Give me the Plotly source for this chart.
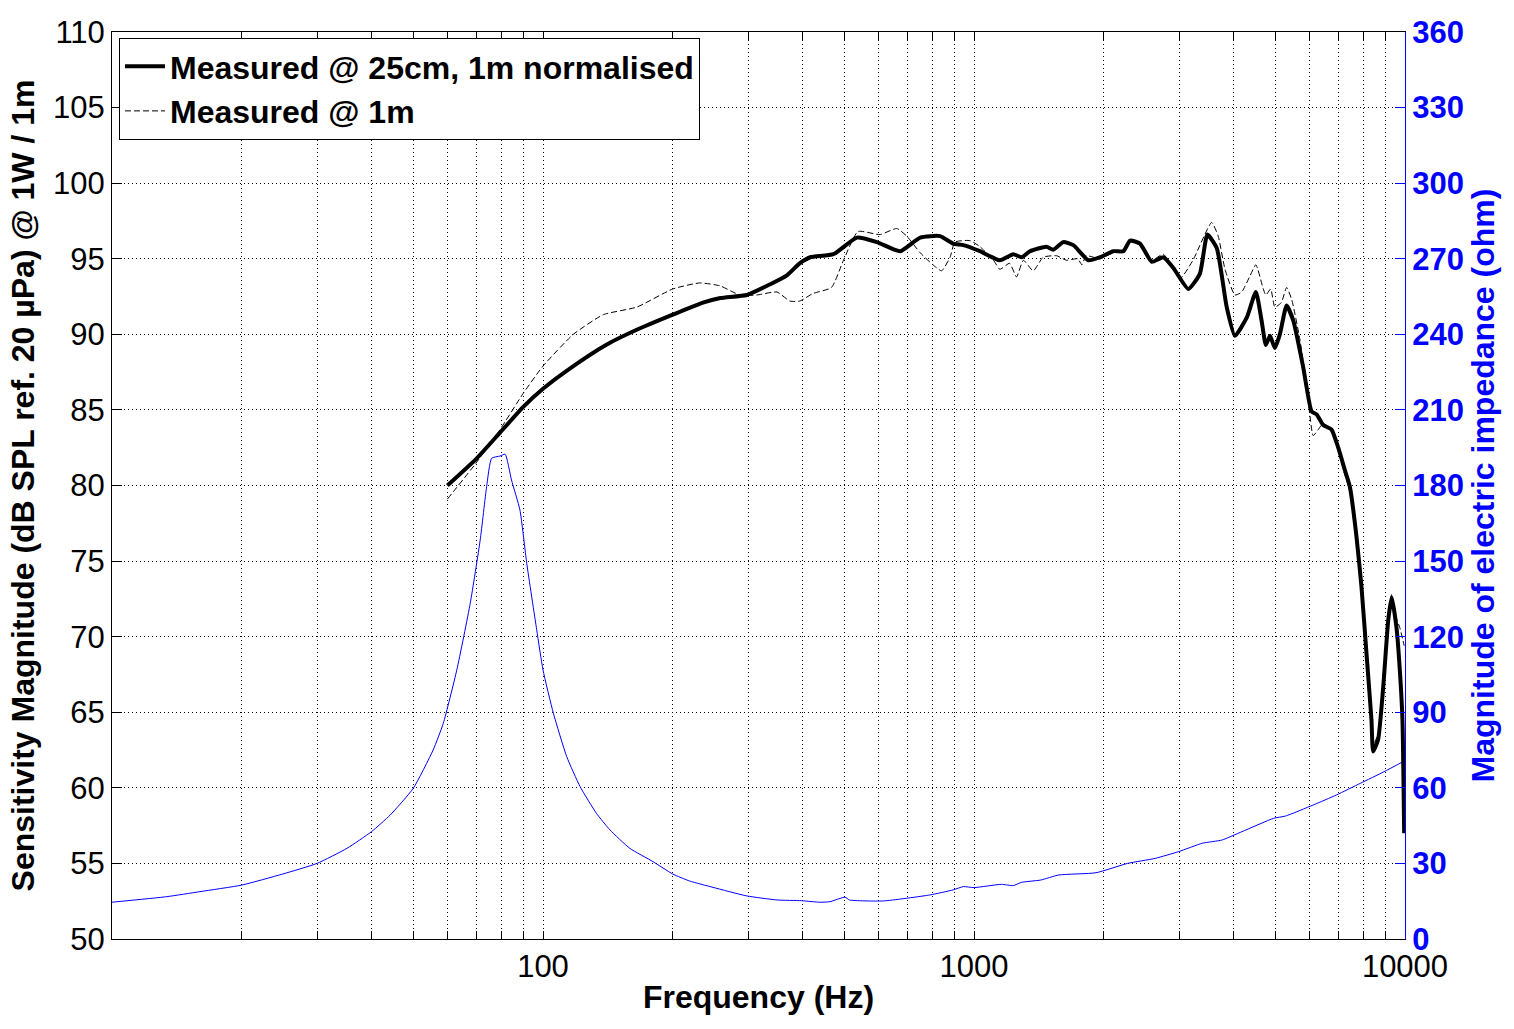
import plotly.graph_objects as go

# ---------------- data ----------------
# Measured @ 25cm, 1m normalised (Hz, dB)
f_near = [60, 70.2, 79.5, 90, 100, 117.6, 140, 165, 200, 235, 258, 297, 336, 368, 394, 417,
          472, 535, 595, 674, 750, 834, 895, 945, 1032, 1148, 1233, 1290, 1348, 1473, 1527,
          1611, 1700, 1842, 1961, 2105, 2221, 2303, 2428, 2585, 2750, 2899, 3143, 3342, 3480,
          3659, 3858, 4031, 4293, 4508, 4648, 4755, 4861, 4989, 5124, 5312, 5506, 5807, 6072,
          6237, 6459, 6754, 7000, 7255, 7450, 7718, 7925, 8140, 8360, 8435, 8663, 8903, 9144,
          9313, 9555, 9726, 9865, 9955]
spl_near = [80.0, 81.8, 83.5, 85.2, 86.4, 87.9, 89.3, 90.3, 91.3, 92.1, 92.4, 92.6, 93.3, 93.9,
            94.7, 95.1, 95.3, 96.4, 96.1, 95.5, 96.4, 96.5, 96.0, 95.9, 95.5, 94.9, 95.3, 95.1,
            95.5, 95.8, 95.6, 96.1, 95.9, 94.9, 95.1, 95.5, 95.5, 96.2, 96.0, 94.8, 95.1, 94.4,
            93.0, 94.0, 96.6, 95.7, 91.8, 89.9, 91.1, 92.8, 90.9, 89.3, 89.9, 89.1, 90.0, 91.9,
            90.9, 87.8, 84.9, 84.7, 84.0, 83.7, 82.5, 81.0, 79.9, 76.6, 73.3, 68.9, 64.5, 62.4,
            63.2, 66.7, 71.1, 72.6, 70.6, 67.8, 64.5, 57.0]

# Measured @ 1m (Hz, dB)
f_far = [60, 70, 79.5, 90, 100, 117.6, 138, 165, 200, 231, 258, 286, 313, 349, 374, 394, 423,
         467, 498, 538, 605, 662, 698, 750, 803, 841, 880, 903, 979, 1032, 1110, 1148, 1209,
         1255, 1302, 1372, 1447, 1554, 1640, 1740, 1780, 1820, 1961, 2105, 2221, 2303, 2428,
         2585, 2750, 3007, 3221, 3559, 3686, 3823, 4031, 4180, 4374, 4508, 4690, 4755, 4880,
         4989, 5165, 5312, 5460, 5700, 5913, 6124, 6290, 6459, 6754, 7000, 7255, 7450, 7718,
         7925, 8140, 8360, 8435, 8663, 8903, 9144, 9313, 9555, 9726, 9955]
spl_far = [79.1, 81.5, 83.7, 86.1, 87.9, 90.0, 91.3, 91.8, 93.0, 93.4, 93.2, 92.6, 92.6, 92.8,
           92.2, 92.2, 92.7, 93.1, 94.9, 96.8, 96.6, 97.0, 96.5, 95.4, 94.6, 94.2, 95.1, 96.1,
           96.2, 95.8, 94.9, 94.3, 94.7, 93.8, 94.9, 94.2, 95.1, 95.2, 94.9, 95.0, 94.6, 95.2,
           95.0, 95.4, 95.5, 96.1, 95.9, 94.9, 95.3, 93.7, 94.9, 97.4, 96.5, 94.3, 92.6, 92.8,
           93.9, 94.6, 93.0, 92.6, 93.0, 91.8, 92.1, 93.1, 92.3, 89.7, 86.6, 83.3, 83.7, 84.1,
           83.6, 82.3, 80.7, 79.6, 76.2, 73.0, 68.6, 64.2, 62.8, 63.6, 67.0, 71.3, 72.8, 71.2,
           70.6, 69.4]

# Electric impedance magnitude (Hz, ohm)
f_imp = [10, 13.4, 16, 20, 24.9, 29.9, 35.1, 40, 44.2, 50, 55.6, 58.7, 63.1, 67.8, 71.5, 74,
         76, 79.5, 81.7, 84.5, 88.4, 91.7, 96.7, 100, 105.7, 113.5, 121.9, 133, 143, 159, 180,
         200, 219, 248, 297, 349, 398, 439, 463, 502, 514, 615, 791, 895, 945, 1000, 1157,
         1233, 1290, 1428, 1572, 1919, 2271, 2632, 2987, 3385, 3764, 4185, 4955, 5280, 6125,
         6940, 7880, 8940, 10000]
z_imp = [14.6, 16.8, 18.8, 21.4, 25.8, 30.0, 36.0, 42.6, 49.2, 59.8, 75.0, 85.6, 106.8, 133.3,
         158.4, 179.6, 190.8, 191.7, 192.4, 182.2, 170.3, 149.0, 122.7, 106.8, 89.6, 72.4,
         60.5, 49.9, 43.3, 36.0, 30.7, 25.8, 23.0, 20.5, 17.1, 15.5, 15.2, 14.6, 14.8, 16.6,
         15.5, 15.1, 17.5, 19.5, 20.8, 20.4, 21.7, 21.2, 22.5, 23.4, 25.4, 26.3, 30.0, 32.0,
         34.7, 38.0, 39.3, 42.6, 47.9, 48.8, 53.2, 57.2, 61.8, 66.4, 70.8]

x_tickvals = [100, 1000, 10000]
x_ticktext = ["100", "1000", "10000"]
x_minorvals = [20, 30, 40, 50, 60, 70, 80, 90, 200, 300, 400, 500, 600, 700, 800, 900,
               2000, 3000, 4000, 5000, 6000, 7000, 8000, 9000]

# ---------------- figure ----------------
FONT = "Liberation Sans, Arial, sans-serif"
BLUE = "#0000FF"
GRID_DASH = "1px,3px"
TICK_SIZE = 31
TITLE_SIZE = 32

fig = go.Figure()

fig.add_trace(go.Scatter(x=f_imp, y=z_imp, mode="lines", yaxis="y",
                         line=dict(color=BLUE, width=1, shape="spline", smoothing=0.5),
                         showlegend=False))
fig.add_trace(go.Scatter(x=f_far, y=spl_far, mode="lines", yaxis="y2",
                         name="Measured @ 1m", legendrank=2,
                         line=dict(color="black", width=1, dash="6px,3px",
                                   shape="spline", smoothing=0.5)))
fig.add_trace(go.Scatter(x=f_near, y=spl_near, mode="lines", yaxis="y2",
                         name="Measured @ 25cm, 1m normalised", legendrank=1,
                         line=dict(color="black", width=4, shape="spline", smoothing=0.5)))

fig.update_layout(
    width=1514, height=1029,
    margin=dict(l=112, r=109, t=32, b=90, autoexpand=False),
    paper_bgcolor="white", plot_bgcolor="white",
    font=dict(family=FONT, size=TICK_SIZE, color="black"),
    showlegend=True,
    legend=dict(x=0.0054, y=0.9934, xanchor="left", yanchor="top",
                bgcolor="white", bordercolor="black", borderwidth=1,
                font=dict(size=32, weight="bold", color="black"),
                itemwidth=40, tracegroupgap=0),
    xaxis=dict(
        type="log", range=[1, 4],
        tickmode="array", tickvals=x_tickvals, ticktext=x_ticktext,
        ticks="inside", ticklen=8, tickcolor="black", tickwidth=1,
        showline=True, linecolor="black", linewidth=1, mirror="allticks",
        showgrid=True, gridcolor="black", gridwidth=1, griddash=GRID_DASH,
        minor=dict(tickmode="array", tickvals=x_minorvals, ticks="inside", ticklen=8,
                   tickcolor="black", showgrid=True, gridcolor="black", gridwidth=1,
                   griddash=GRID_DASH),
        zeroline=False,
        tickfont=dict(size=TICK_SIZE, color="black"),
        title=dict(text="Frequency (Hz)",
                   font=dict(size=TITLE_SIZE, weight="bold", color="black"), standoff=2),
        automargin=False,
    ),
    yaxis=dict(
        range=[0, 360], tickmode="linear", tick0=0, dtick=30, side="right",
        ticks="inside", ticklen=10, tickcolor=BLUE, tickwidth=1,
        showline=True, linecolor=BLUE, linewidth=1,
        showgrid=True, gridcolor="black", gridwidth=1, griddash=GRID_DASH,
        zeroline=False,
        tickfont=dict(size=TICK_SIZE, color=BLUE, weight="bold"),
        title=dict(text="Magnitude of electric impedance (ohm)",
                   font=dict(size=TITLE_SIZE, weight="bold", color=BLUE), standoff=8),
        automargin=False,
    ),
    yaxis2=dict(
        range=[50, 110], tickmode="linear", tick0=50, dtick=5, side="left",
        overlaying="y",
        ticks="inside", ticklen=10, tickcolor="black", tickwidth=1,
        showline=True, linecolor="black", linewidth=1,
        showgrid=False, zeroline=False,
        tickfont=dict(size=TICK_SIZE, color="black"),
        title=dict(text="Sensitivity Magnitude (dB SPL ref. 20 \u00b5Pa) @ 1W / 1m",
                   font=dict(size=TITLE_SIZE, weight="bold", color="black"), standoff=8),
        automargin=False,
    ),
)

fig.write_html("out.html", config={"displayModeBar": False},
               post_script="document.body.style.margin='0';document.body.style.overflow='hidden';")
